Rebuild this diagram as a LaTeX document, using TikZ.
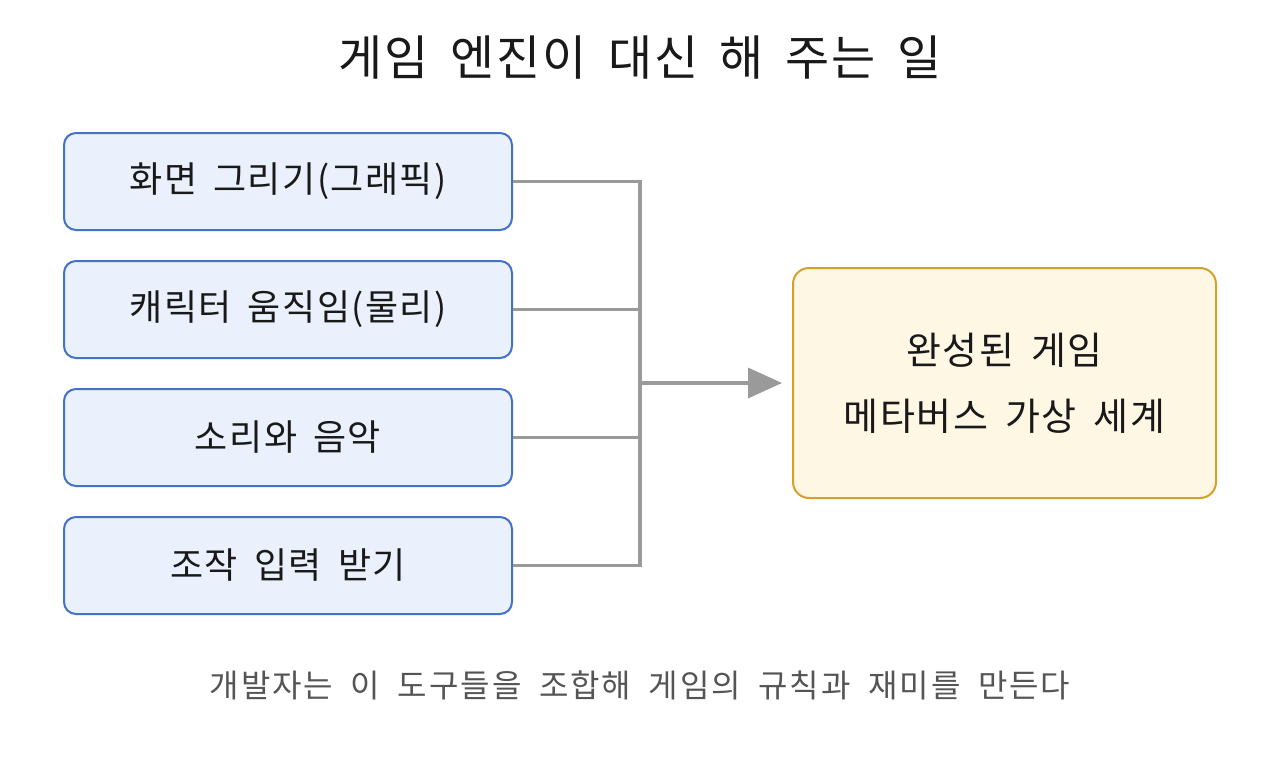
\documentclass[tikz,border=0pt]{standalone}
\usepackage{fontspec}
\setmainfont{Noto Sans CJK KR}
\usetikzlibrary{arrows.meta}
\definecolor{bluebd}{HTML}{4472C4}
\definecolor{bluefill}{HTML}{EAF1FC}
\definecolor{goldbd}{HTML}{D4A22C}
\definecolor{goldfill}{HTML}{FDF7E4}
\definecolor{conn}{HTML}{9A9A9A}
\definecolor{note}{HTML}{555555}
\newcommand{\spaced}[2]{\addfontfeatures{LetterSpace=#1}\spaceskip=#2em\relax}
\tikzset{
  x=1pt,y=-1pt,
  tool/.style={draw=bluebd,fill=bluefill,line width=2pt,rounded corners=12pt,minimum width=448pt,minimum height=97pt,inner sep=0pt,font=\fontsize{36}{40}\selectfont\spaced{4}{0.45},text=black!90},
  result/.style={draw=goldbd,fill=goldfill,line width=2pt,rounded corners=16pt,minimum width=423pt,minimum height=230pt,inner sep=0pt,align=center,font=\fontsize{38}{66}\selectfont\spaced{4}{0.45},text=black!90},
  link/.style={draw=conn,line width=3.5pt},
}
\begin{document}
\begin{tikzpicture}
\useasboundingbox[fill=white] (0,0) rectangle (1280,768);
\node[font=\fontsize{48}{54}\selectfont\spaced{4}{0.45},text=black!90] (title) at (640,58) {게임 엔진이 대신 해 주는 일};
\node[tool] (t1) at (288,181.5) {화면 그리기(그래픽)};
\node[tool] (t2) at (288,309.5) {캐릭터 움직임(물리)};
\node[tool] (t3) at (288,437.5) {소리와 음악};
\node[tool] (t4) at (288,565.5) {조작 입력 받기};
\node[result] (res) at (1004.5,383) {완성된 게임\\메타버스 가상 세계};
\coordinate (j1) at (640,181.5);
\coordinate (j4) at (640,565.5);
\coordinate (jm) at (640,383);
\draw[link] (t1.east) -- (j1) -- (j4) -- (t4.east);
\draw[link] (t2.east) -- (t2.east -| jm);
\draw[link] (t3.east) -- (t3.east -| jm);
\draw[link,-{Triangle[length=34pt,width=30pt]}] (jm) -- ([xshift=-10pt]res.west);
\node[font=\fontsize{32}{36}\selectfont\spaced{6}{0.55},text=note] (cap) at (640,685) {개발자는 이 도구들을 조합해 게임의 규칙과 재미를 만든다};
\end{tikzpicture}
\end{document}
